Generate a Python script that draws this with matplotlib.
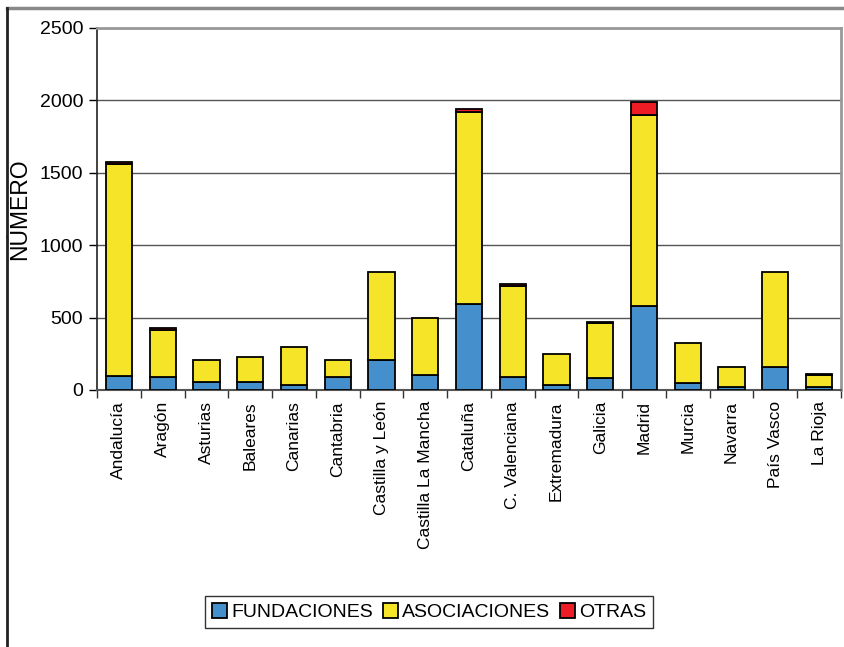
import numpy as np
import matplotlib
matplotlib.use('Agg')
import matplotlib.pyplot as plt
from matplotlib.lines import Line2D

plt.rcParams['font.family'] = ['Liberation Sans', 'DejaVu Sans']

# data
regiones = ['Andalucía', 'Aragón', 'Asturias', 'Baleares', 'Canarias', 'Cantabria',
            'Castilla y León', 'Castilla La Mancha', 'Cataluña', 'C. Valenciana',
            'Extremadura', 'Galicia', 'Madrid', 'Murcia', 'Navarra', 'País Vasco', 'La Rioja']
fundaciones = [100, 90, 57, 55, 35, 90, 205, 103, 595, 90, 35, 80, 583, 46, 23, 158, 23]
asociaciones = [1460, 325, 147, 173, 260, 115, 608, 393, 1324, 631, 215, 381, 1315, 282, 138, 655, 78]
otras = [15, 12, 0, 0, 0, 0, 0, 0, 25, 14, 0, 12, 90, 0, 0, 0, 11]

colors = {'FUNDACIONES': '#458fcd', 'ASOCIACIONES': '#f5e427', 'OTRAS': '#ee1c25'}

fig = plt.figure(figsize=(8.45, 6.47), dpi=100)
ax = fig.add_axes([97/845, 1 - 390/647, 744/845, 362/647])

x = np.arange(len(regiones))
f = np.array(fundaciones)
a = np.array(asociaciones)
o = np.array(otras)
w = 0.6
kw = dict(width=w, edgecolor='black', linewidth=1.3, zorder=3)
ax.bar(x, f, color=colors['FUNDACIONES'], label='FUNDACIONES', **kw)
ax.bar(x, a, bottom=f, color=colors['ASOCIACIONES'], label='ASOCIACIONES', **kw)
mask = o > 0
ax.bar(x[mask], o[mask], bottom=(f + a)[mask], color=colors['OTRAS'], **kw)
ax.bar([np.nan], [0], color=colors['OTRAS'], edgecolor='black', linewidth=1.3, label='OTRAS')

ax.set_xlim(-0.5, len(regiones) - 0.5)
ax.set_ylim(0, 2500)
ax.set_yticks([0, 500, 1000, 1500, 2000, 2500])
ax.yaxis.grid(True, color='#555555', linewidth=1, zorder=0)
ax.set_axisbelow(True)

# boundary ticks (major, no labels) and centred labels (minor, no marks)
ax.set_xticks(np.arange(-0.5, len(regiones) + 0.5, 1))
ax.set_xticklabels([])
ax.set_xticks(x, minor=True)
ax.set_xticklabels(regiones, minor=True, rotation=90, fontsize=12.5)
ax.tick_params(axis='x', which='minor', length=0, pad=8)
ax.tick_params(axis='x', which='major', length=6, width=1, color='#333333')
ax.tick_params(axis='y', length=6, width=1, labelsize=14, pad=4)

for s in ['top', 'right']:
    ax.spines[s].set_color('#999999')
    ax.spines[s].set_linewidth(2)
ax.spines['left'].set_color('#222222')
ax.spines['left'].set_linewidth(1.2)
ax.spines['bottom'].set_color('#555555')
ax.spines['bottom'].set_linewidth(1.5)

ax.set_ylabel('NÚMERO', fontsize=16.5)
ax.yaxis.set_label_coords(-0.089, 0.5)

leg = fig.legend(loc='center', bbox_to_anchor=(429/845, 1 - 612/647), ncol=3, fontsize=14,
                 frameon=True, fancybox=False, edgecolor='black', handlelength=0.8,
                 handleheight=0.8, handletextpad=0.2, columnspacing=0.5, borderpad=0.35)
leg.get_frame().set_linewidth(1)

# outer frame of the original chart (top and left only visible)
fig.add_artist(Line2D([7/845, 1], [1 - 8/647, 1 - 8/647], color='#888888', linewidth=2.5))
fig.add_artist(Line2D([7/845, 7/845], [0, 1 - 8/647], color='#222222', linewidth=2))

fig.savefig('out.png', dpi=100)
